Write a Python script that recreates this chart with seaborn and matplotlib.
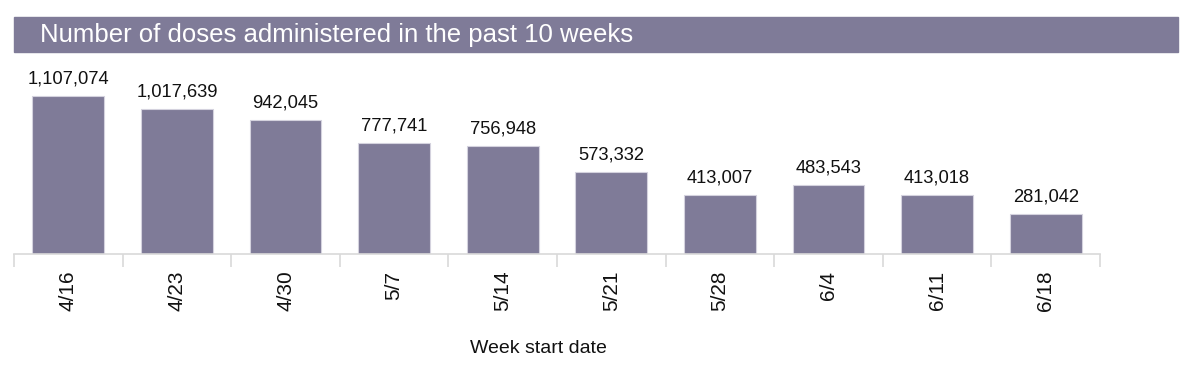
import pandas as pd
import matplotlib.pyplot as plt
import seaborn as sns
from matplotlib.patches import Rectangle

# Data
weeks = ["4/16", "4/23", "4/30", "5/7", "5/14", "5/21", "5/28", "6/4", "6/11", "6/18"]
doses = [1107074, 1017639, 942045, 777741, 756948, 573332, 413007, 483543, 413018, 281042]

title = "Number of doses administered in the past 10 weeks"
x_label = "Week start date"
bar_color = "#7f7b98"


def plot_doses(df):
    sns.set_style("white")
    plt.rcParams["font.family"] = ["Liberation Sans", "DejaVu Sans"]

    fig = plt.figure(figsize=(12, 3.66), dpi=100)
    ax = fig.add_axes([14 / 1200, 1 - 254 / 366, (1100 - 14) / 1200, 200 / 366])

    sns.barplot(data=df, x="week", y="doses", color=bar_color, width=0.66,
                saturation=1, edgecolor="#d4d2de", linewidth=0.8, ax=ax)

    # value labels above bars
    ax.bar_label(ax.containers[0], labels=[f"{v:,}" for v in df["doses"]],
                 padding=6, fontsize=13.2, color="#111111")

    ax.set_xlim(-0.5, len(df) - 0.5)
    ax.set_ylim(0, 1107074 * 200 / 158)
    ax.set_yticks([])
    ax.set_ylabel("")

    # ticks between categories, labels rotated
    ax.set_xticks(range(len(df)))
    ax.set_xticklabels(df["week"], rotation=90, fontsize=15, color="#111111")
    ax.set_xticks([i - 0.5 for i in range(len(df) + 1)], minor=True)
    ax.tick_params(axis="x", which="major", length=0, pad=12)
    ax.tick_params(axis="x", which="minor", length=9, width=1.2, color="#d9d9d9",
                   bottom=True)

    ax.set_xlabel(x_label, fontsize=14, color="#111111")
    ax.xaxis.set_label_coords((538 - 14) / (1100 - 14), -0.43)

    for side in ["top", "right", "left"]:
        ax.spines[side].set_visible(False)
    ax.spines["bottom"].set_color("#d9d9d9")
    ax.spines["bottom"].set_linewidth(1.2)

    # title band
    fig.patches.append(Rectangle((14 / 1200, 1 - 52 / 366), (1178 - 14) / 1200, 35 / 366,
                                 transform=fig.transFigure, color=bar_color, zorder=0))
    fig.text(40 / 1200, 1 - 35 / 366, title, color="white", fontsize=18.5,
             va="center", ha="left")

    fig.savefig("out.png", dpi=100)


def main():
    df = pd.DataFrame({"week": weeks, "doses": doses})
    plot_doses(df)


if __name__ == "__main__":
    main()
